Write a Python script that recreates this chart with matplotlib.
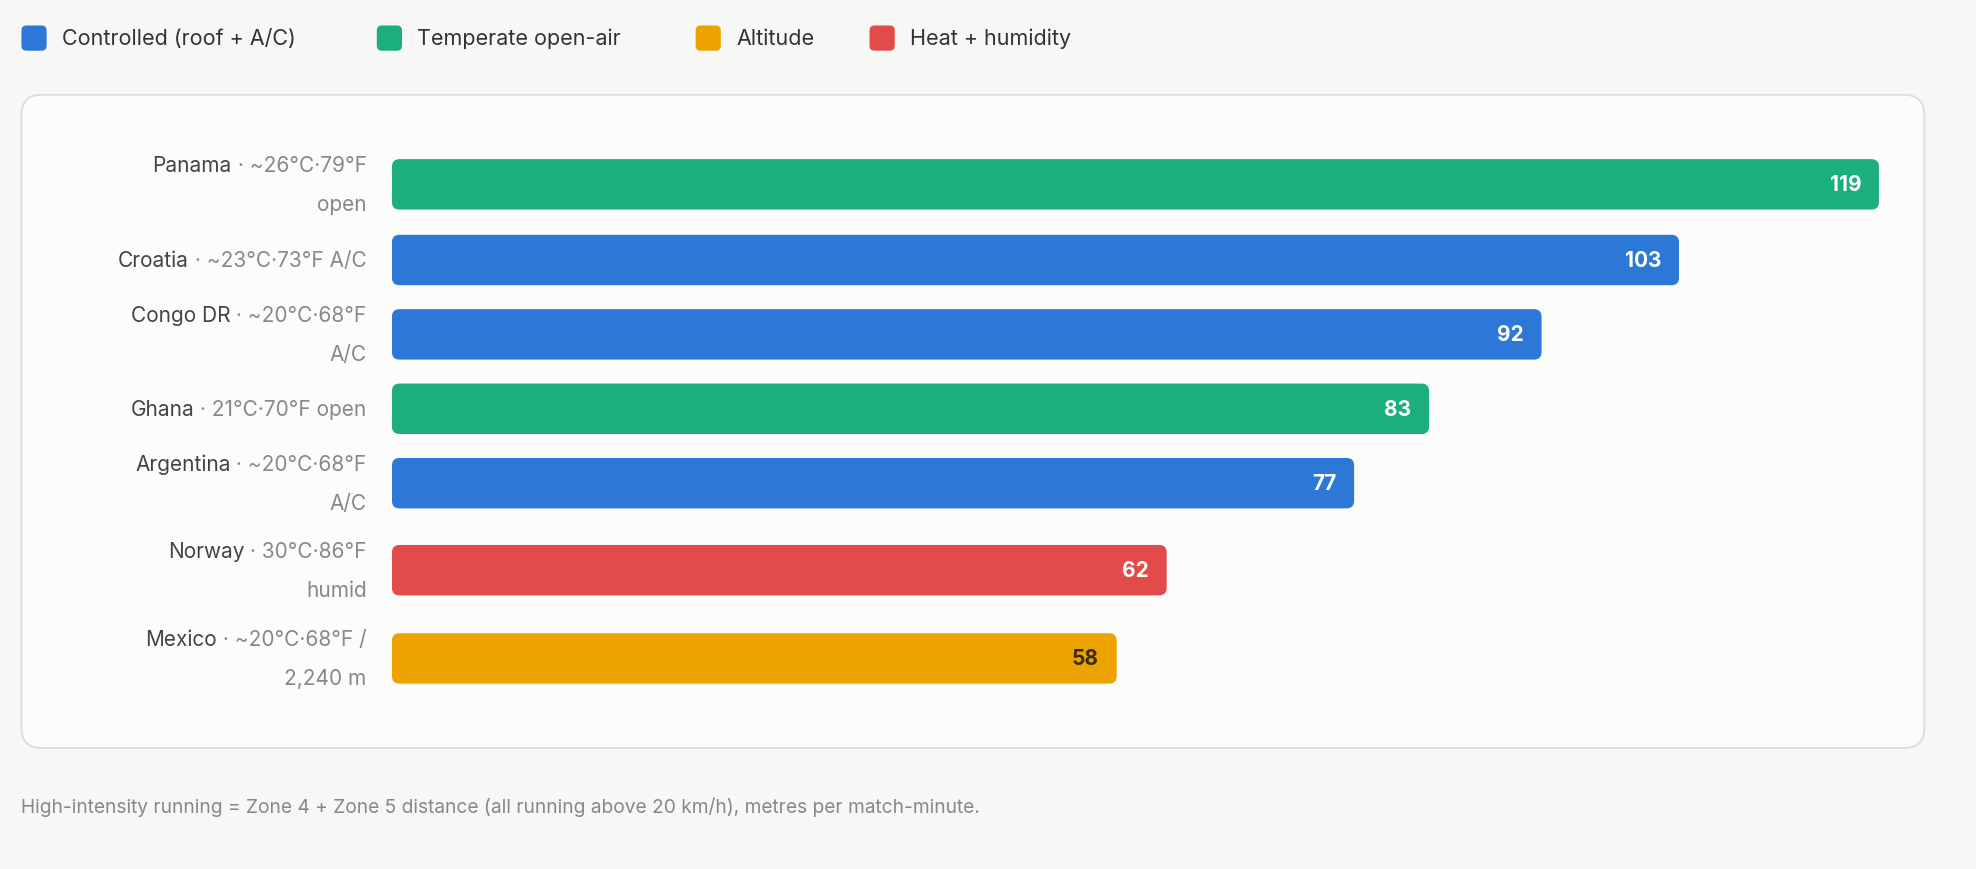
import matplotlib.pyplot as plt
from matplotlib.patches import FancyBboxPatch

countries = ["Panama", "Croatia", "Congo DR", "Ghana", "Argentina", "Norway", "Mexico"]
details = [[" · ~26°C·79°F", "open"], [" · ~23°C·73°F A/C"], [" · ~20°C·68°F", "A/C"],
           [" · 21°C·70°F open"], [" · ~20°C·68°F", "A/C"], [" · 30°C·86°F", "humid"],
           [" · ~20°C·68°F /", "2,240 m"]]
values = [119, 103, 92, 83, 77, 62, 58]
groups = ["temp", "ctrl", "ctrl", "temp", "ctrl", "heat", "alt"]
legend_keys = ["ctrl", "temp", "alt", "heat"]
legend_labels = ["Controlled (roof + A/C)", "Temperate open-air", "Altitude", "Heat + humidity"]
colors = {"ctrl": "#2d78d6", "temp": "#1caf7b", "alt": "#eca300", "heat": "#e34b4a"}
footer = "High-intensity running = Zone 4 + Zone 5 distance (all running above 20 km/h), metres per match-minute."

plt.rcParams['font.family'] = ['Inter', 'DejaVu Sans']
W, H = 1568, 690
fig = plt.figure(figsize=(19.76, 8.70), dpi=100, facecolor="#f7f7f5")
bg = fig.add_axes([0, 0, 1, 1])
bg.set_xlim(0, W); bg.set_ylim(H, 0); bg.axis("off")

# card
bg.add_patch(FancyBboxPatch((17, 76), 1510, 518, boxstyle="round,pad=0,rounding_size=16",
                            fc="#fcfcfb", ec="#dcdcdc", lw=1.3))

# legend
lx = [17, 299, 552, 690]
for x, k, lab in zip(lx, legend_keys, legend_labels):
    bg.add_patch(FancyBboxPatch((x, 21), 20, 20, boxstyle="round,pad=0,rounding_size=4",
                                fc=colors[k], ec="none"))
    bg.text(x + 32, 31, lab, fontsize=15.5, color="#333333", va="center")

bg.text(17, 640, footer, fontsize=13.8, color="#888888", va="center")

# bars
ypos = [147, 207, 266, 325, 384, 453, 523]
x0, x1 = 311, 1491
ax = fig.add_axes([x0 / W, 0, (x1 - x0) / W, 1])
ax.set_xlim(0, 119); ax.set_ylim(H, 0); ax.axis("off"); ax.patch.set_alpha(0)
ux = (x1 - x0) / 119.0
bh = 40
for y, v, g in zip(ypos, values, groups):
    ax.add_patch(FancyBboxPatch((0, y - bh / 2), v, bh,
                                boxstyle="round,pad=0,rounding_size=%f" % (6 / ux),
                                mutation_aspect=ux, fc=colors[g], ec="none"))
    ax.text(v - 14 / ux, y, str(v), ha="right", va="center", fontsize=15, fontweight="bold",
            color="#3a2a00" if g == "alt" else "white")

# labels
fig.canvas.draw()
r = fig.canvas.get_renderer()
for y, c, d in zip(ypos, countries, details):
    lines_y = [y] if len(d) == 1 else [y - 15.5, y + 15.5]
    t = bg.text(291, lines_y[0], d[0], ha="right", va="center", fontsize=15, color="#888888")
    bb = t.get_window_extent(renderer=r)
    xl = bg.transData.inverted().transform((bb.x0, 0))[0]
    bg.text(xl, lines_y[0], c, ha="right", va="center", fontsize=15, color="#444444")
    if len(d) > 1:
        bg.text(291, lines_y[1], d[1], ha="right", va="center", fontsize=15, color="#888888")

fig.savefig("out.png", dpi=100, facecolor=fig.get_facecolor())
